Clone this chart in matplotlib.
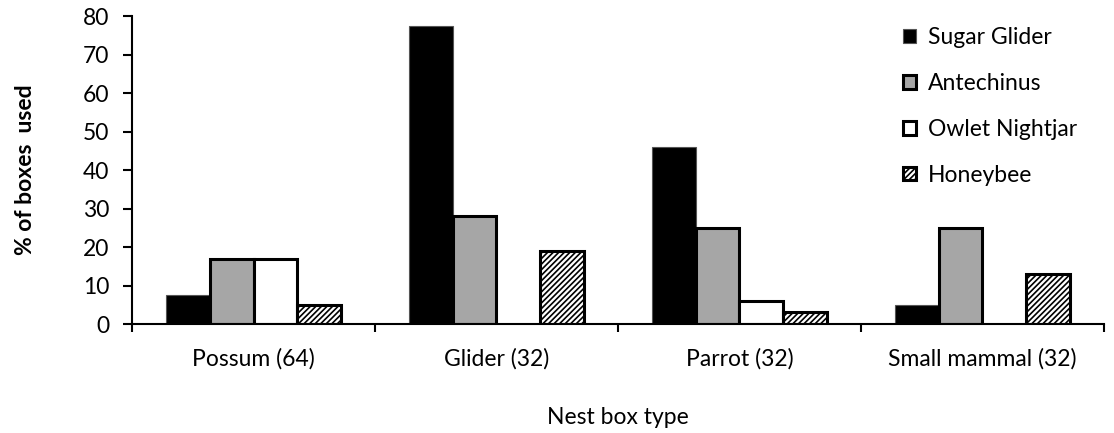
import numpy as np
import matplotlib.pyplot as plt

plt.rcParams['font.family'] = ['Lato', 'DejaVu Sans']

box_types = ["Possum (64)", "Glider (32)", "Parrot (32)", "Small mammal (32)"]
species = ["Sugar Glider", "Antechinus", "Owlet Nightjar", "Honeybee"]
sugar_glider = [7.5, 77.5, 46, 5]
antechinus = [17, 28, 25, 25]
owlet_nightjar = [17, 0, 6, 0]
honeybee = [5, 19, 3, 13]

series = [sugar_glider, antechinus, owlet_nightjar, honeybee]
faces = ["black", "#a6a6a6", "white", "white"]
hatches = [None, None, None, "//////"]

plt.rcParams['hatch.linewidth'] = 1.2
fs = 16.5

fig = plt.figure(figsize=(11.14, 4.33), dpi=100)
ax = fig.add_axes([0.1185, 0.2517, 0.8725, 0.7113])

x = np.arange(len(box_types))
w = 0.18
for i, vals in enumerate(series):
    offs = (i - 1.5) * w
    vals = np.array(vals, dtype=float)
    keep = vals > 0
    lw = 0.8 if i == 0 else 2.2
    ec = "#555555" if i == 0 else "black"
    ax.bar(x[keep] + offs, vals[keep], w, color=faces[i], edgecolor=ec,
           linewidth=lw, hatch=hatches[i], label=species[i], zorder=2)

ax.set_xlim(-0.5, 3.5)
ax.set_ylim(0, 80)
ax.set_yticks(np.arange(0, 81, 10))
ax.set_xticks(x)
ax.set_xticklabels(box_types, fontsize=fs)
ax.set_xticks(np.arange(-0.5, 3.6, 1), minor=True)
ax.tick_params(axis='x', which='major', length=0, pad=17)
ax.tick_params(axis='x', which='minor', length=6, width=1.5, direction='out')
ax.tick_params(axis='y', length=6.5, width=1.5, labelsize=fs, pad=10)
for s in ["top", "right"]:
    ax.spines[s].set_visible(False)
for s in ["left", "bottom"]:
    ax.spines[s].set_linewidth(1.5)

ax.set_ylabel("% of boxes  used", fontsize=fs, fontweight='bold', va='center')
ax.yaxis.set_label_coords(-0.11, 0.5)
ax.set_xlabel("Nest box type", fontsize=fs)
ax.xaxis.set_label_coords(0.5, -0.27)

leg = ax.legend(loc='upper left', bbox_to_anchor=(0.772, 1.03), frameon=False,
                fontsize=fs, handlelength=0.55, handleheight=0.55,
                labelspacing=1.08, handletextpad=0.55)

fig.savefig("out.png", dpi=100)
